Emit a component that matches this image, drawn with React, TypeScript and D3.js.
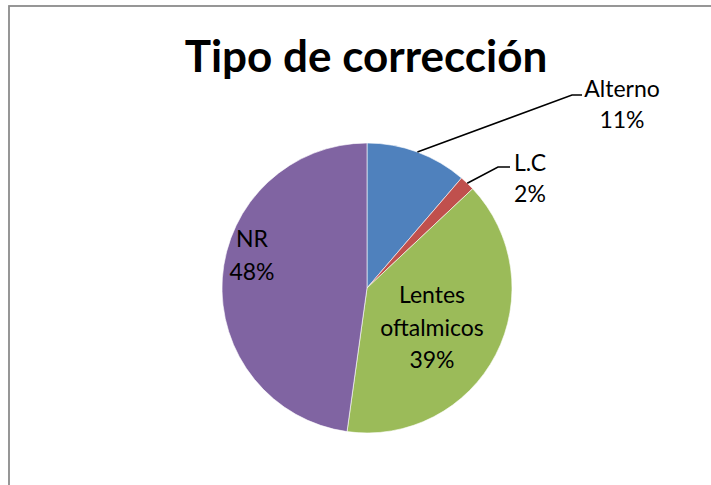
import React from "react";
import * as d3 from "d3";

const categories = ["Alterno", "L.C", "Lentes oftalmicos", "NR"];
const values = [11.3, 1.7, 39.2, 47.8];
const percentLabels = ["11%", "2%", "39%", "48%"];
const colors = ["#4F81BD", "#C0504D", "#9BBB59", "#8064A2"];
const title = "Tipo de corrección";

const W = 711;
const H = 485;
const cx = 367;
const cy = 288;
const R = 145;
const FONT = "Lato, 'Open Sans', sans-serif";

const labelLayout: any[] = [
  { lines: ["Alterno"], x: 622, y: 97, lineH: 31, outside: true, elbow: [572, 95], end: 582 },
  { lines: ["L.C"], x: 530, y: 171, lineH: 31, outside: true, elbow: [498, 167], end: 510 },
  { lines: ["Lentes", "oftalmicos"], x: 432, y: 303, lineH: 32.5, outside: false },
  { lines: ["NR"], x: 252, y: 247, lineH: 33, outside: false },
];

export default function App() {
  const pie = d3.pie<number>().sort(null).value((d) => d);
  const arcs = pie(values);
  const arc = d3.arc<d3.PieArcDatum<number>>().innerRadius(0).outerRadius(R);

  return (
    <svg
      width={W}
      height={H}
      style={{ position: "absolute", left: 0, top: 0, background: "#fff" }}
    >
      <rect x={9} y={6} width={W + 20} height={H + 20} fill="#fff" stroke="#8c8c8c" strokeWidth={1.8} />
      <text x={366} y={72} textAnchor="middle" fontFamily={FONT} fontWeight="bold" fontSize={44} fill="#000">
        {title}
      </text>
      <g transform={`translate(${cx},${cy})`}>
        {arcs.map((a, i) => (
          <path key={i} d={arc(a) || ""} fill={colors[i]} stroke="#fff" strokeWidth={0.6} />
        ))}
      </g>
      {arcs.map((a, i) => {
        const L = labelLayout[i];
        const mid = (a.startAngle + a.endAngle) / 2;
        const lines = [...L.lines, percentLabels[i]];
        let leader = null;
        if (L.outside) {
          const sx = cx + R * Math.sin(mid);
          const sy = cy - R * Math.cos(mid);
          leader = (
            <polyline
              points={`${sx},${sy} ${L.elbow[0]},${L.elbow[1]} ${L.end},${L.elbow[1]}`}
              fill="none"
              stroke="#000"
              strokeWidth={1.5}
            />
          );
        }
        return (
          <g key={i}>
            {leader}
            <text fontFamily={FONT} fontSize={23} fill="#000" textAnchor="middle">
              {lines.map((t, j) => (
                <tspan key={j} x={L.x} y={L.y + j * L.lineH}>
                  {t}
                </tspan>
              ))}
            </text>
          </g>
        );
      })}
    </svg>
  );
}
